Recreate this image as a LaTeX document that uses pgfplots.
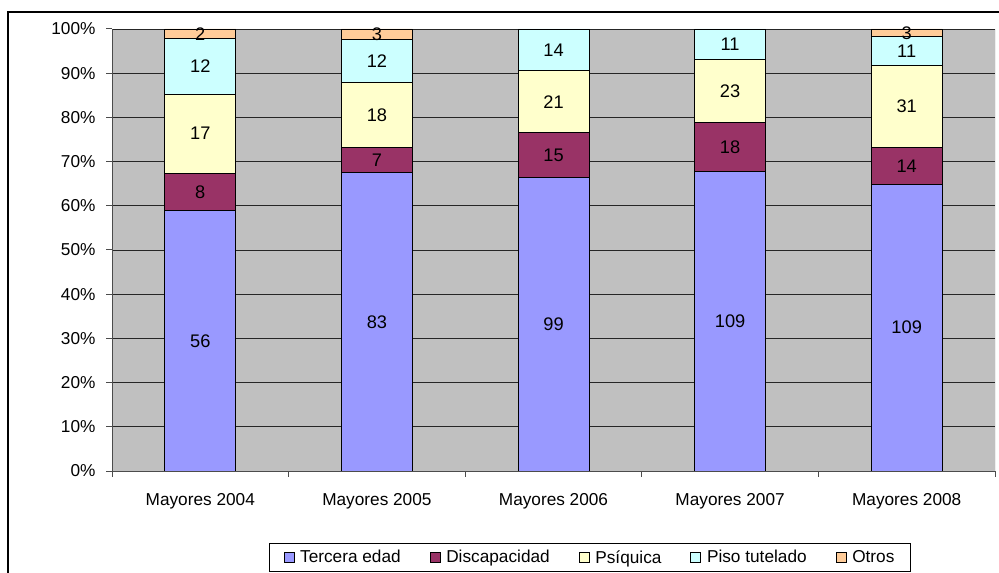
\documentclass[border=0pt]{standalone}
\usepackage{fontspec}
\setmainfont{Liberation Sans}
\usepackage{pgfplots}
\usepackage{pgfplotstable}
\pgfplotsset{compat=1.18}

\definecolor{cTercera}{HTML}{9999FF}
\definecolor{cDiscap}{HTML}{993366}
\definecolor{cPsiq}{HTML}{FFFFCC}
\definecolor{cPiso}{HTML}{CCFFFF}
\definecolor{cOtros}{HTML}{FFCC99}
\definecolor{bggray}{HTML}{C0C0C0}

% percentage of each year's total, and the count shown on the bar
\pgfplotstableread{
x pct cnt
0 58.947 56
1 67.480 83
2 66.443 99
3 67.702 109
4 64.881 109
}\tTercera
\pgfplotstableread{
x pct cnt
0 8.421 8
1 5.691 7
2 10.067 15
3 11.180 18
4 8.333 14
}\tDiscap
\pgfplotstableread{
x pct cnt
0 17.895 17
1 14.634 18
2 14.094 21
3 14.286 23
4 18.452 31
}\tPsiq
\pgfplotstableread{
x pct cnt
0 12.632 12
1 9.756 12
2 9.396 14
3 6.832 11
4 6.548 11
}\tPiso
\pgfplotstableread{
x pct cnt
0 2.105 2
1 2.439 3
2 0 0
3 0 0
4 1.786 3
}\tOtros

\newcommand{\lbl}{\fontsize{17.3}{20}\selectfont}

\begin{document}
\begin{tikzpicture}
\path[use as bounding box] (0bp,0bp) rectangle (999bp,573bp);
\draw[line width=1.5bp] (8bp,0bp) -- (8bp,561bp) -- (999bp,561bp);
\begin{axis}[
  at={(112bp,102bp)}, anchor=south west,
  scale only axis, width=883bp, height=442bp,
  ybar stacked, bar width=71bp,
  xmin=-0.5, xmax=4.5, ymin=0, ymax=100,
  axis background/.style={fill=bggray},
  axis x line*=bottom, axis y line*=left,
  axis line style={black!70, line width=1bp},
  tick align=outside, major tick length=6bp,
  tick style={black!70, line width=1bp},
  ytick={0,10,...,100},
  yticklabel={\pgfmathprintnumber{\tick}\%},
  yticklabel style={font=\lbl, xshift=-7bp},
  ymajorgrids, grid style={black!85, line width=0.8bp},
  xtick={-0.5,0.5,...,4.5}, xticklabels={},
  extra x ticks={0,1,2,3,4},
  extra x tick labels={Mayores 2004,Mayores 2005,Mayores 2006,Mayores 2007,Mayores 2008},
  extra x tick style={major tick length=0pt, grid=none,
    tick label style={font=\lbl, yshift=-18.5bp}},
  /pgf/number format/assume math mode=true,
  every axis plot/.append style={draw=black, line width=0.8bp,
    legend image code/.code={\draw[##1, line width=0.6bp] (0bp,-5bp) rectangle (10bp,5bp);}},
  nodes near coords={\ifdim\cnt pt>0pt \pgfmathprintnumber{\cnt}\fi},
  visualization depends on={\thisrow{cnt} \as \cnt},
  every node near coord/.append style={font=\fontsize{18.3}{21}\selectfont,
    text=black, anchor=center},
  legend columns=5,
  legend style={at={(0.5413,-0.2285)}, anchor=south, draw=black, line width=1bp,
    fill=white, font=\lbl, inner ysep=5bp, inner xsep=14bp,
    /tikz/every odd column/.append style={column sep=4bp},
    /tikz/every even column/.append style={column sep=27bp}},
]
\addplot[fill=cTercera] table[x=x, y=pct] {\tTercera};
\addplot[fill=cDiscap] table[x=x, y=pct] {\tDiscap};
\addplot[fill=cPsiq] table[x=x, y=pct] {\tPsiq};
\addplot[fill=cPiso] table[x=x, y=pct] {\tPiso};
\addplot[fill=cOtros] table[x=x, y=pct] {\tOtros};
\legend{Tercera edad, Discapacidad, Psíquica, Piso tutelado, Otros}
\draw[gray, line width=1bp] (rel axis cs:1,0) -- (rel axis cs:1,1);
\end{axis}
\end{tikzpicture}
\end{document}
